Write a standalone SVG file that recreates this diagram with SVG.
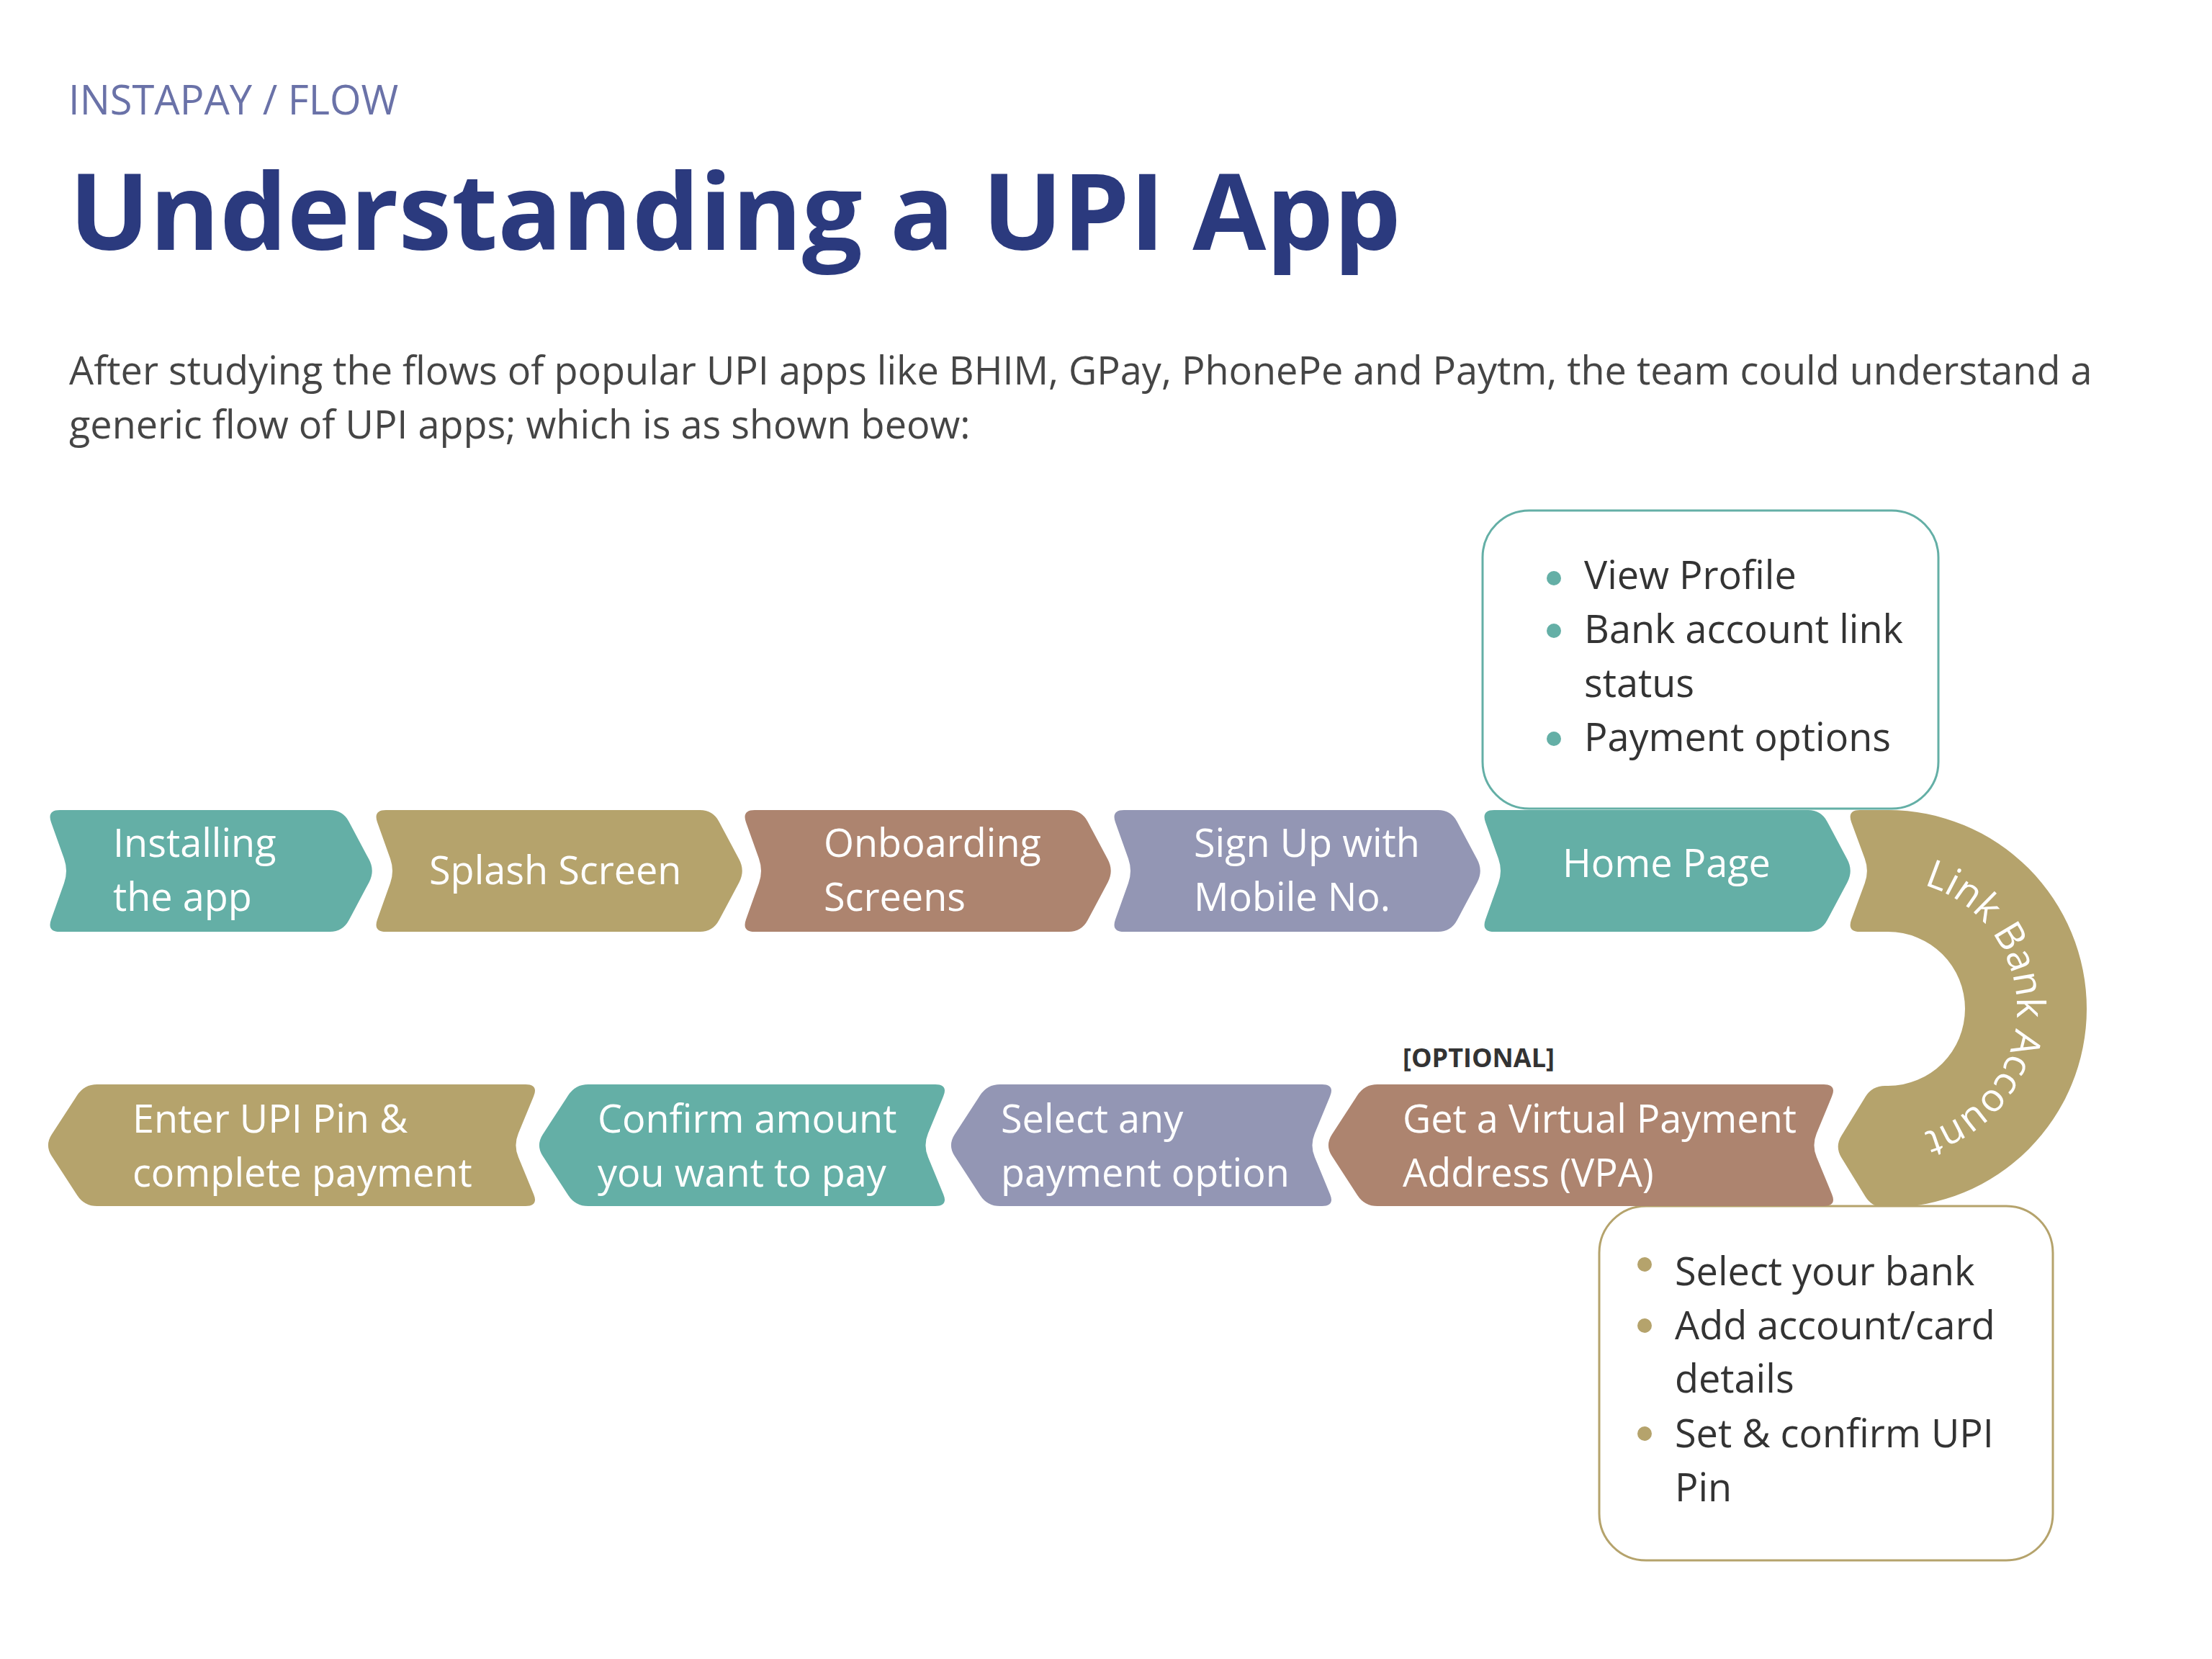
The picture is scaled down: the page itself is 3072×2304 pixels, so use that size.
<svg xmlns="http://www.w3.org/2000/svg" width="3072" height="2304" viewBox="0 0 3072 2304">
<style>
text{font-family:'Open Sans','Noto Sans','Liberation Sans',sans-serif;}
.hdr{font-size:56px;fill:#6A72A8;}
.title{font-size:148px;font-weight:700;fill:#2B3A7E;}
.para{font-size:54px;fill:#454545;}
.lbl{font-size:54px;fill:#ffffff;}
.blt{font-size:54px;fill:#333333;}
.opt{font-size:36px;font-weight:700;fill:#333333;}
.teal{fill:#64AFA6;}
.gold{fill:#B5A36C;}
.brown{fill:#AD846F;}
.lav{fill:#9396B4;}
.boxT{fill:#ffffff;stroke:#64AFA6;stroke-width:3;}
.boxG{fill:#ffffff;stroke:#B5A36C;stroke-width:3;}
</style>
<defs>
<path id="arcText" d="M2622,1222 A179,179 0 0 1 2622,1580"/>
</defs>
<rect x="0" y="0" width="3072" height="2304" fill="#ffffff"/>

<g id="header">
<text class="hdr" x="95" y="159">INSTAPAY / FLOW</text>
<text class="title" x="96" y="347">Understanding a UPI App</text>
<text class="para" x="96" y="534">After studying the flows of popular UPI apps like BHIM, GPay, PhonePe and Paytm, the team could understand a</text>
<text class="para" x="96" y="609">generic flow of UPI apps; which is as shown beow:</text>
</g>

<g id="connectors"></g>

<g id="node-installing">
<path class="teal" transform="translate(65,1125)" d="M18,0 L393,0 Q411,0 419.5,15.9 L447.5,68.6 Q456,84.5 447.5,100.4 L419.5,153.1 Q411,169 393,169 L18,169 Q0,169 6,152 L24,101.5 Q30,84.5 24,67.5 L6,17 Q0,0 18,0Z"/>
<text class="lbl" x="157" y="1190">Installing</text>
<text class="lbl" x="157" y="1265">the app</text>
</g>

<g id="node-splash">
<path class="gold" transform="translate(518,1125)" d="M18,0 L454,0 Q472,0 480.5,15.9 L508.5,68.6 Q517,84.5 508.5,100.4 L480.5,153.1 Q472,169 454,169 L18,169 Q0,169 6,152 L24,101.5 Q30,84.5 24,67.5 L6,17 Q0,0 18,0Z"/>
<text class="lbl" x="596" y="1228">Splash Screen</text>
</g>

<g id="node-onboarding">
<path class="brown" transform="translate(1030,1125)" d="M18,0 L454,0 Q472,0 480.5,15.9 L508.5,68.6 Q517,84.5 508.5,100.4 L480.5,153.1 Q472,169 454,169 L18,169 Q0,169 6,152 L24,101.5 Q30,84.5 24,67.5 L6,17 Q0,0 18,0Z"/>
<text class="lbl" x="1144" y="1190">Onboarding</text>
<text class="lbl" x="1144" y="1265">Screens</text>
</g>

<g id="node-signup">
<path class="lav" transform="translate(1543,1125)" d="M18,0 L454,0 Q472,0 480.5,15.9 L508.5,68.6 Q517,84.5 508.5,100.4 L480.5,153.1 Q472,169 454,169 L18,169 Q0,169 6,152 L24,101.5 Q30,84.5 24,67.5 L6,17 Q0,0 18,0Z"/>
<text class="lbl" x="1658" y="1190">Sign Up with</text>
<text class="lbl" x="1658" y="1265">Mobile No.</text>
</g>

<g id="node-home">
<path class="teal" transform="translate(2057,1125)" d="M18,0 L454,0 Q472,0 480.5,15.9 L508.5,68.6 Q517,84.5 508.5,100.4 L480.5,153.1 Q472,169 454,169 L18,169 Q0,169 6,152 L24,101.5 Q30,84.5 24,67.5 L6,17 Q0,0 18,0Z"/>
<text class="lbl" x="2170" y="1218">Home Page</text>
</g>

<g id="node-home-details">
<rect class="boxT" x="2059" y="709" width="633" height="414" rx="65" ry="65"/>
<circle class="teal" cx="2158" cy="803" r="10"/>
<circle class="teal" cx="2158" cy="876" r="10"/>
<circle class="teal" cx="2158" cy="1026" r="10"/>
<text class="blt" x="2200" y="818">View Profile</text>
<text class="blt" x="2200" y="893">Bank account link</text>
<text class="blt" x="2200" y="968">status</text>
<text class="blt" x="2200" y="1043">Payment options</text>
</g>

<g id="node-link-bank">
<path class="gold" d="M2583,1125 L2622,1125 A276,276 0 0 1 2622,1677 L2618,1677 Q2600,1677 2590.6,1661.7 L2557.4,1607.8 Q2548,1592.5 2557.4,1577.2 L2590.6,1523.3 Q2600,1508 2618,1508 L2622,1508 A107,107 0 0 0 2622,1294 L2583,1294 Q2565,1294 2571.2,1277.1 L2589.8,1226.4 Q2596,1209.5 2589.8,1192.6 L2571.2,1141.9 Q2565,1125 2583,1125Z"/>
<text class="lbl" font-size="53"><textPath href="#arcText" startOffset="50%" text-anchor="middle">Link Bank Account</textPath></text>
</g>

<g id="node-link-details">
<rect class="boxG" x="2221" y="1675" width="630" height="492" rx="65" ry="65"/>
<circle class="gold" cx="2284" cy="1756" r="10"/>
<circle class="gold" cx="2284" cy="1841" r="10"/>
<circle class="gold" cx="2284" cy="1991" r="10"/>
<text class="blt" x="2326" y="1785">Select your bank</text>
<text class="blt" x="2326" y="1860">Add account/card</text>
<text class="blt" x="2326" y="1934">details</text>
<text class="blt" x="2326" y="2010">Set &amp; confirm UPI</text>
<text class="blt" x="2326" y="2085">Pin</text>
</g>

<g id="node-vpa">
<text class="opt" x="1948" y="1482">[OPTIONAL]</text>
<path class="brown" transform="translate(1840,1506)" d="M73,0 L693,0 Q711,0 704.1,16.6 L682.9,67.9 Q676,84.5 682.9,101.1 L704.1,152.4 Q711,169 693,169 L73,169 Q55,169 45.2,153.9 L9.8,99.6 Q0,84.5 9.8,69.4 L45.2,15.1 Q55,0 73,0Z"/>
<text class="lbl" x="1948" y="1573">Get a Virtual Payment</text>
<text class="lbl" x="1948" y="1648">Address (VPA)</text>
</g>

<g id="node-select-payment">
<path class="lav" transform="translate(1316,1506)" d="M73,0 L520,0 Q538,0 531.1,16.6 L509.9,67.9 Q503,84.5 509.9,101.1 L531.1,152.4 Q538,169 520,169 L73,169 Q55,169 45.2,153.9 L9.8,99.6 Q0,84.5 9.8,69.4 L45.2,15.1 Q55,0 73,0Z"/>
<text class="lbl" x="1390" y="1573">Select any</text>
<text class="lbl" x="1390" y="1648">payment option</text>
</g>

<g id="node-confirm">
<path class="teal" transform="translate(744,1506)" d="M73,0 L555,0 Q573,0 566.1,16.6 L544.9,67.9 Q538,84.5 544.9,101.1 L566.1,152.4 Q573,169 555,169 L73,169 Q55,169 45.2,153.9 L9.8,99.6 Q0,84.5 9.8,69.4 L45.2,15.1 Q55,0 73,0Z"/>
<text class="lbl" x="830" y="1573">Confirm amount</text>
<text class="lbl" x="830" y="1648">you want to pay</text>
</g>

<g id="node-enter-pin">
<path class="gold" transform="translate(62,1506)" d="M73,0 L668,0 Q686,0 679.1,16.6 L657.9,67.9 Q651,84.5 657.9,101.1 L679.1,152.4 Q686,169 668,169 L73,169 Q55,169 45.2,153.9 L9.8,99.6 Q0,84.5 9.8,69.4 L45.2,15.1 Q55,0 73,0Z"/>
<text class="lbl" x="184" y="1573">Enter UPI Pin &amp;</text>
<text class="lbl" x="184" y="1648">complete payment</text>
</g>
</svg>
